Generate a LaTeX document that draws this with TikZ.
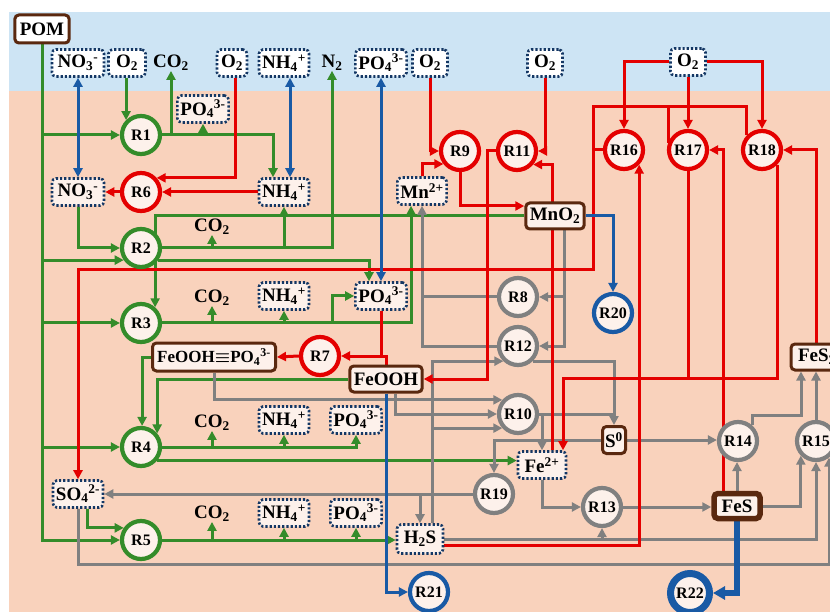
\documentclass[tikz,border=0pt]{standalone}
\usepackage{fontspec}
\setmainfont{Liberation Serif}
\usetikzlibrary{arrows.meta,calc}
\definecolor{cg}{RGB}{52,140,42}
\definecolor{cr}{RGB}{228,0,0}
\definecolor{cb}{RGB}{25,90,165}
\definecolor{cy}{RGB}{128,128,128}
\definecolor{cbrown}{RGB}{90,40,15}
\definecolor{cnavy}{RGB}{20,55,100}
\definecolor{csky}{RGB}{205,228,244}
\definecolor{cpeach}{RGB}{249,210,188}
\definecolor{cfill}{RGB}{253,241,235}
\pgfdeclarelayer{bgl}
\pgfdeclarelayer{lnl}
\pgfsetlayers{bgl,lnl,main}
\tikzset{
 ln/.style={line width=3pt},
 gl/.style={ln, draw=cg},
 rl/.style={ln, draw=cr},
 bl/.style={ln, draw=cb},
 yl/.style={ln, draw=cy},
 arr/.style={-{Triangle[length=9pt,width=9pt]}},
 darr/.style={{Triangle[length=9pt,width=9pt]}-{Triangle[length=9pt,width=9pt]}},
 rxn/.style={circle, minimum size=38pt, inner sep=0pt, line width=4.2pt, fill=cfill, font=\fontsize{16}{16}\selectfont\bfseries},
 grx/.style={rxn, draw=cg},
 rrx/.style={rxn, draw=cr},
 yrx/.style={rxn, draw=cy},
 brx/.style={rxn, draw=cb},
 sp/.style={rectangle, rounded corners=4pt, draw=cnavy, line width=2.6pt, dash pattern=on 2.2pt off 2pt, fill=cfill, inner xsep=3pt, inner ysep=0pt, minimum height=27pt, minimum width=50pt, font=\fontsize{19}{19}\selectfont\bfseries},
 spt/.style={sp, fill=white},
 spo/.style={sp, fill=white, minimum width=35pt},
 mbox/.style={rectangle, rounded corners=4pt, draw=cbrown, line width=3pt, fill=cfill, inner xsep=4pt, inner ysep=0pt, minimum height=26pt, font=\fontsize{19}{19}\selectfont\bfseries},
 lbl/.style={inner sep=0pt, font=\fontsize{19}{19}\selectfont\bfseries},
}
\begin{document}
\begin{tikzpicture}[x=1pt,y=-1pt]
\useasboundingbox (0,0) rectangle (830,612);
\begin{pgfonlayer}{bgl}
\fill[white] (0,0) rectangle (830,612);
\fill[csky] (9,12) rectangle (830,91);
\fill[cpeach] (9,91) rectangle (830,612);
\end{pgfonlayer}
\clip (0,0) rectangle (830,612);
% ---------- nodes ----------
\node[mbox, fill=white, inner xsep=5pt, minimum height=28pt] (pom) at (42,29) {POM};
\node[spt, minimum width=52pt] (no3t) at (78,63) {NO\textsubscript{3}\textsuperscript{-}};
\node[spo, minimum width=37pt] (o2a) at (127,63) {O\textsubscript{2}};
\node[lbl] (co2t) at (171,63) {CO\textsubscript{2}};
\node[spo, minimum width=30pt] (o2b) at (232,63) {O\textsubscript{2}};
\node[spt] (nh4t) at (284,63) {NH\textsubscript{4}\textsuperscript{+}};
\node[lbl] (n2t) at (332,63) {N\textsubscript{2}};
\node[spt] (po4t) at (381,63) {PO\textsubscript{4}\textsuperscript{3-}};
\node[spo] (o2c) at (430,63) {O\textsubscript{2}};
\node[spo] (o2d) at (545,63) {O\textsubscript{2}};
\node[spo] (o2e) at (688,62) {O\textsubscript{2}};

\node[grx] (r1) at (141,135) {R1};
\node[rrx] (r6) at (141,192) {R6};
\node[grx] (r2) at (141,248) {R2};
\node[grx] (r3) at (141,323) {R3};
\node[grx] (r4) at (141,447) {R4};
\node[grx] (r5) at (141,540) {R5};
\node[rrx] (r7) at (320,356) {R7};
\node[rrx] (r9) at (460,151) {R9};
\node[rrx] (r11) at (517,151) {R11};
\node[rrx] (r16) at (624,150) {R16};
\node[rrx] (r17) at (688,150) {R17};
\node[rrx] (r18) at (762,150) {R18};
\node[yrx] (r8) at (518,297) {R8};
\node[yrx] (r12) at (518,346) {R12};
\node[yrx] (r10) at (518,414) {R10};
\node[brx] (r20) at (613,313) {R20};
\node[yrx] (r19) at (494,494) {R19};
\node[yrx] (r13) at (602,507) {R13};
\node[yrx] (r14) at (738,441) {R14};
\node[yrx] (r15) at (816,441) {R15};
\node[brx] (r21) at (429,592) {R21};
\node[brx, line width=7pt, minimum size=39pt] (r22) at (690,593) {R22};

\node[sp] (po4a) at (203,109) {PO\textsubscript{4}\textsuperscript{3-}};
\node[sp, minimum width=52pt] (no3b) at (78,192) {NO\textsubscript{3}\textsuperscript{-}};
\node[sp] (nh4b) at (284,192) {NH\textsubscript{4}\textsuperscript{+}};
\node[lbl] (co2a) at (212,227) {CO\textsubscript{2}};
\node[lbl] (co2b) at (212,298) {CO\textsubscript{2}};
\node[sp] (nh4c) at (284,296) {NH\textsubscript{4}\textsuperscript{+}};
\node[sp] (po4b) at (381,296) {PO\textsubscript{4}\textsuperscript{3-}};
\node[mbox, font=\fontsize{17}{17}\selectfont\bfseries, minimum height=28pt, minimum width=123pt] (fpo) at (214,357) {FeOOH{\boldmath$\equiv$}PO\textsubscript{4}\textsuperscript{3-}};
\node[mbox] (feooh) at (386,379) {FeOOH};
\node[lbl] (co2c) at (212,423) {CO\textsubscript{2}};
\node[sp] (nh4d) at (284,420) {NH\textsubscript{4}\textsuperscript{+}};
\node[sp] (po4c) at (356,420) {PO\textsubscript{4}\textsuperscript{3-}};
\node[sp] (so4) at (78,494) {SO\textsubscript{4}\textsuperscript{2-}};
\node[lbl] (co2d) at (212,514) {CO\textsubscript{2}};
\node[sp] (nh4e) at (284,513) {NH\textsubscript{4}\textsuperscript{+}};
\node[sp] (po4d) at (356,513) {PO\textsubscript{4}\textsuperscript{3-}};
\node[sp, minimum width=46pt, minimum height=29pt] (h2s) at (420,539) {H\textsubscript{2}S};
\node[mbox, line width=5.5pt, minimum width=46pt, minimum height=25pt] (fes) at (737,506) {FeS};
\node[mbox, minimum width=52pt] (fes2) at (817,357) {FeS\textsubscript{2}};
\node[mbox, minimum width=23pt, inner xsep=2pt, minimum height=27pt] (s0) at (614,440) {S\textsuperscript{0}};
\node[sp, minimum width=48pt] (fe2) at (542,465) {Fe\textsuperscript{2+}};
\node[mbox, minimum width=56pt] (mno2) at (555,216) {MnO\textsubscript{2}};
\node[sp, minimum width=49pt] (mn2) at (422,191) {Mn\textsuperscript{2+}};

\coordinate (jA) at (593,107);
\coordinate (jB) at (593,270);
\coordinate (jC) at (0,378);
\coordinate (jD) at (0,415);
\coordinate (jE) at (0,564);
\coordinate (jF) at (487,0);

\begin{pgfonlayer}{lnl}
% ---------- green ----------
\draw[gl,arr] (pom.south) |- (r5.west);
\draw[gl,arr] (pom.south |- r1.west) -- (r1.west);
\draw[gl,arr] (pom.south |- r2.215) -- (r2.215);
\draw[gl,arr] (pom.south |- r3.west) -- (r3.west);
\draw[gl,arr] (pom.south |- r4.west) -- (r4.west);
\draw[gl,arr] (no3b.south) |- (r2.west);
\draw[gl,arr] (r1.135 |- o2a.south) -- (r1.135);
\draw[gl,arr] (r1.east) -| ([xshift=-11pt]nh4b.north);
\draw[gl,arr] (co2t.south |- r1.east) -- (co2t.south);
\draw[gl,arr] (po4a.south |- r1.east) -- (po4a.south);
\draw[gl,arr] (r2.east) -| (n2t.south);
\draw[gl,arr] (co2a.south |- r2.east) -- (co2a.south);
\draw[gl,arr] (nh4b.south |- r2.east) -- (nh4b.south);
\draw[gl,arr] (r2.-35) -| ([xshift=-12pt]po4b.north);
\draw[gl,arr] (mno2.west) -| (r3.48);
\draw[gl,arr] (r3.east) -| ([xshift=-11pt]mn2.south);
\draw[gl,arr] (co2b.south |- r3.east) -- (co2b.south);
\draw[gl,arr] (nh4c.south |- r3.east) -- (nh4c.south);
\draw[gl,arr] (n2t.south |- r3.east) |- (po4b.west);
\draw[gl,arr] (fpo.west) -| (r4.87);
\draw[gl,arr] (feooh.west) -| (r4.40);
\draw[gl,arr] (r4.east) -| (po4c.south);
\draw[gl,arr] (co2c.south |- r4.east) -- (co2c.south);
\draw[gl,arr] (nh4d.south |- r4.east) -- (nh4d.south);
\draw[gl,arr] (r4.-40) -- (r4.-40 -| fe2.west);
\draw[gl,arr] (r5.east) -- (r5.east -| h2s.west);
\draw[gl,arr] (co2d.south |- r5.east) -- (co2d.south);
\draw[gl,arr] (nh4e.south |- r5.east) -- (nh4e.south);
\draw[gl,arr] (po4d.south |- r5.east) -- (po4d.south);
\draw[gl,arr] ([xshift=9pt]so4.south) |- (r5.145);
% ---------- gray ----------
\draw[yl] (r8.west) -- (r8.west -| mn2.south);
\draw[yl,arr] (r12.west) -| (mn2.south);
\draw[yl,arr] ([xshift=9pt]mno2.south) |- (r12.east);
\draw[yl,arr] ([xshift=9pt]mno2.south |- r8.east) -- (r8.east);
\draw[yl,arr] ([xshift=12pt]h2s.north) |- (r12.226);
\draw[yl,arr] ([xshift=12pt]h2s.north |- r10.222) -- (r10.222);
\draw[yl,arr] (r12.-46) -| (s0.north);
\draw[yl] (r10.east) -- (r10.east -| s0.north);
\draw[yl,arr] (r10.east -| fe2.north) -- (fe2.north);
\draw[yl,arr] (fpo.south) |- (r10.138);
\draw[yl,arr] ([xshift=9pt]feooh.south) |- (r10.west);
\draw[yl,arr] (s0.east) -- (s0.east -| r14.west);
\draw[yl,arr] (s0.west) -| (r19.north);
\draw[yl,arr] (r19.west) -- (so4.east);
\draw[yl,arr] (r19.west -| h2s.north) -- (h2s.north);
\draw[yl,arr] (fe2.south) |- (r13.west);
\draw[yl,arr] (h2s.east) -| (r15.south);
\draw[yl,arr] (r13.south |- h2s.east) -- (r13.south);
\draw[yl,arr] (r13.east) -- (r13.east -| fes.west);
\draw[yl,arr] (fes.north) -- (fes.north |- r14.south);
\draw[yl,arr] (fes.east) -| (r15.224);
\draw[yl,arr] (r14.48) -- (r14.48 |- jD) -| ([xshift=-16pt]fes2.south);
\draw[yl,arr] (r15.north) -- (r15.north |- fes2.south);
\draw[yl,arr] (so4.south) |- (r15.-52 |- jE) -- (r15.-52);
% ---------- red ----------
\draw[rl,arr] ([xshift=3pt]o2b.south) |- (r6.42);
\draw[rl,arr] (nh4b.west) -- (r6.east);
\draw[rl,arr] (r6.west) -- (no3b.east);
\draw[rl,arr] (o2c.south) |- (r9.west);
\draw[rl,arr] (mn2.north) |- (r9.218);
\draw[rl,arr] (r9.south) |- ([yshift=10pt]mno2.west);
\draw[rl,arr] (o2d.south) |- (r11.east);
\draw[rl,arr] ([xshift=10pt]fe2.north) |- (r11.-40);
\draw[rl,arr] (r11.west) -- (r11.west -| jF) |- (feooh.east);
\draw[rl,arr] (po4b.south) |- (r7.east);
\draw[rl] (feooh.north) |- (po4b.south |- r7.east);
\draw[rl,arr] (r7.west) -- (fpo.east);
\draw[rl] (r16.west) -- (r16.west -| jA);
\draw[rl] (r17.160) -- (r17.160 |- jA);
\draw[rl,arr] (r18.136) -- (r18.136 |- jA) -- (jA) -- (jB) -| (so4.north);
\draw[rl,arr] (o2e.west) -| (r16.north);
\draw[rl,arr] (o2e.south) -- (r17.north);
\draw[rl,arr] (o2e.east) -| (r18.north);
\draw[rl,arr] ([yshift=-6pt]h2s.east) -| (r16.-44);
\draw[rl] (r17.south) -- (r17.south |- jC);
\draw[rl,arr] (r18.-44) -- (r18.-44 |- jC) -| ([xshift=21pt]fe2.north);
\draw[rl,arr] ([xshift=-14pt]fes.north) |- (r17.east);
\draw[rl,arr] ([xshift=-1pt]fes2.north) |- (r18.east);
% ---------- blue ----------
\draw[bl,darr] (no3t.south) -- (no3b.north);
\draw[bl,darr] ([xshift=6pt]nh4t.south) -- ([xshift=6pt]nh4b.north);
\draw[bl,darr] (po4t.south) -- (po4b.north);
\draw[bl,arr] (mno2.east) -| (r20.north);
\draw[bl,arr] (feooh.south) |- (r21.west);
\draw[bl, line width=5.5pt, -{Triangle[length=12pt,width=13pt]}] (fes.south) |- (r22.east);
\end{pgfonlayer}
\end{tikzpicture}
\end{document}
